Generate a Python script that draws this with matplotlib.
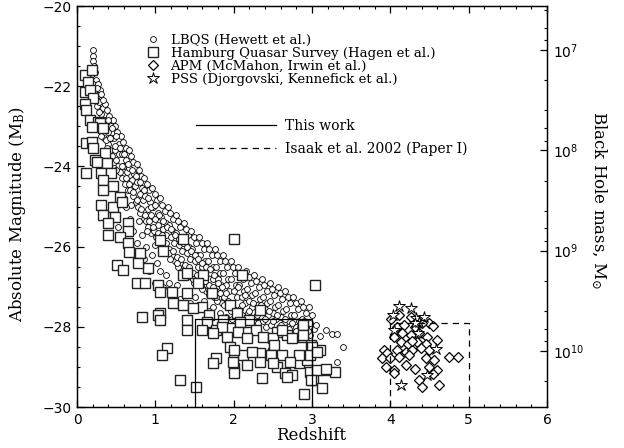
import numpy as np
import matplotlib.pyplot as plt
from matplotlib.lines import Line2D
from matplotlib.ticker import MultipleLocator, LogLocator, NullFormatter, LogFormatterMathtext

plt.rcParams['mathtext.fontset'] = 'dejavuserif'

# LBQS (Hewett et al.): redshift, M_B
lbqs = np.array([
    (0.20, -21.10), (0.20, -21.25), (0.21, -21.38), (0.22, -21.5), (0.19, -21.7), (0.24, -21.85),
    (0.21, -21.95), (0.23, -22.1), (0.25, -22.25), (0.22, -22.35), (0.26, -22.5),
    (0.27, -21.95), (0.29, -22.1), (0.31, -22.2), (0.28, -22.4), (0.33, -22.55), (0.30, -22.7),
    (0.34, -22.85), (0.29, -22.95), (0.32, -23.1), (0.35, -23.3), (0.31, -23.25),
    (0.36, -22.45), (0.38, -22.6), (0.41, -22.75), (0.37, -22.9), (0.43, -23.0), (0.39, -23.15),
    (0.44, -23.3), (0.40, -23.45), (0.42, -23.6), (0.45, -23.75), (0.38, -23.55),
    (0.46, -22.85), (0.48, -23.0), (0.51, -23.15), (0.47, -23.3), (0.53, -23.45), (0.49, -23.6),
    (0.54, -23.7), (0.50, -23.85), (0.52, -24.0), (0.55, -24.15), (0.47, -24.05),
    (0.56, -23.25), (0.59, -23.4), (0.62, -23.55), (0.57, -23.7), (0.63, -23.85), (0.60, -24.0),
    (0.64, -24.15), (0.58, -24.3), (0.61, -24.45), (0.65, -24.6), (0.60, -24.8), (0.52, -25.5),
    (0.66, -23.6), (0.69, -23.75), (0.72, -23.9), (0.67, -24.05), (0.73, -24.2), (0.70, -24.35),
    (0.74, -24.5), (0.68, -24.6), (0.71, -24.75), (0.75, -24.9), (0.69, -24.95),
    (0.76, -23.95), (0.79, -24.1), (0.82, -24.25), (0.77, -24.4), (0.83, -24.55), (0.80, -24.7),
    (0.84, -24.85), (0.78, -25.0), (0.81, -25.15), (0.85, -25.3), (0.79, -25.35),
    (0.86, -24.3), (0.89, -24.45), (0.92, -24.6), (0.87, -24.75), (0.93, -24.9), (0.90, -25.05),
    (0.94, -25.2), (0.88, -25.35), (0.91, -25.5), (0.95, -25.65), (0.89, -25.6),
    (0.96, -24.55), (0.99, -24.7), (1.02, -24.85), (0.97, -25.0), (1.03, -25.15), (1.00, -25.3),
    (1.04, -25.45), (0.98, -25.6), (1.01, -25.75), (1.05, -25.9), (0.99, -25.95),
    (1.06, -24.8), (1.09, -24.95), (1.12, -25.1), (1.07, -25.25), (1.13, -25.4), (1.10, -25.55),
    (1.14, -25.7), (1.08, -25.85), (1.11, -26.0), (1.15, -26.15), (1.09, -26.1),
    (1.16, -25.0), (1.19, -25.15), (1.22, -25.3), (1.17, -25.45), (1.23, -25.6), (1.20, -25.75),
    (1.24, -25.9), (1.18, -26.05), (1.21, -26.2), (1.25, -26.35), (1.19, -26.3),
    (1.26, -25.2), (1.29, -25.35), (1.32, -25.5), (1.27, -25.65), (1.33, -25.8), (1.30, -25.95),
    (1.34, -26.1), (1.28, -26.25), (1.31, -26.4), (1.35, -26.55), (1.29, -26.5),
    (1.36, -25.4), (1.39, -25.55), (1.42, -25.7), (1.37, -25.85), (1.43, -26.0), (1.40, -26.15),
    (1.44, -26.3), (1.38, -26.45), (1.41, -26.6), (1.45, -26.75), (1.39, -26.7),
    (1.46, -25.6), (1.49, -25.75), (1.52, -25.9), (1.47, -26.05), (1.53, -26.2), (1.50, -26.35),
    (1.54, -26.5), (1.48, -26.65), (1.51, -26.8), (1.55, -26.95), (1.49, -26.9),
    (1.56, -25.75), (1.59, -25.9), (1.62, -26.05), (1.57, -26.2), (1.63, -26.35), (1.60, -26.5),
    (1.64, -26.65), (1.58, -26.8), (1.61, -26.95), (1.65, -27.1), (1.59, -27.05),
    (1.66, -25.9), (1.69, -26.05), (1.72, -26.2), (1.67, -26.35), (1.73, -26.5), (1.70, -26.65),
    (1.74, -26.8), (1.68, -26.95), (1.71, -27.1), (1.75, -27.25), (1.69, -27.2),
    (1.76, -26.05), (1.79, -26.2), (1.82, -26.35), (1.77, -26.5), (1.83, -26.65), (1.80, -26.8),
    (1.84, -26.95), (1.78, -27.1), (1.81, -27.25), (1.85, -27.4), (1.79, -27.35),
    (1.86, -26.2), (1.89, -26.35), (1.92, -26.5), (1.87, -26.65), (1.93, -26.8), (1.90, -26.95),
    (1.94, -27.1), (1.88, -27.25), (1.91, -27.4), (1.95, -27.5),
    (1.96, -26.35), (1.99, -26.5), (2.02, -26.65), (1.97, -26.8), (2.03, -26.95), (2.00, -27.1),
    (2.04, -27.25), (1.98, -27.4), (2.01, -27.55),
    (2.06, -26.5), (2.09, -26.65), (2.12, -26.8), (2.07, -26.95), (2.13, -27.1), (2.10, -27.25),
    (2.14, -27.4), (2.08, -27.55), (2.11, -27.7),
    (2.16, -26.6), (2.19, -26.75), (2.22, -26.9), (2.17, -27.05), (2.23, -27.2), (2.20, -27.35),
    (2.24, -27.5), (2.18, -27.65), (2.21, -27.8),
    (2.26, -26.7), (2.29, -26.85), (2.32, -27.0), (2.27, -27.15), (2.33, -27.3), (2.30, -27.45),
    (2.34, -27.6), (2.28, -27.75), (2.31, -27.9),
    (2.36, -26.8), (2.39, -26.95), (2.42, -27.1), (2.37, -27.25), (2.43, -27.4), (2.40, -27.55),
    (2.44, -27.7), (2.38, -27.85), (2.41, -28.0),
    (2.46, -26.9), (2.49, -27.05), (2.52, -27.2), (2.47, -27.35), (2.53, -27.5), (2.50, -27.65),
    (2.54, -27.8), (2.48, -27.95),
    (2.56, -27.0), (2.59, -27.15), (2.62, -27.3), (2.57, -27.45), (2.63, -27.6), (2.60, -27.75),
    (2.64, -27.9), (2.58, -28.05),
    (2.66, -27.1), (2.69, -27.25), (2.72, -27.4), (2.67, -27.55), (2.73, -27.7), (2.70, -27.85),
    (2.74, -28.0), (2.68, -28.1),
    (2.76, -27.25), (2.79, -27.4), (2.82, -27.55), (2.77, -27.7), (2.83, -27.85), (2.80, -28.0),
    (2.84, -28.15),
    (2.86, -27.35), (2.89, -27.5), (2.92, -27.65), (2.87, -27.8), (2.93, -27.95), (2.90, -28.1),
    (2.94, -28.2),
    (2.96, -27.5), (3.00, -27.7), (2.98, -27.9), (3.03, -28.05), (2.97, -28.2),
    (3.10, -28.23), (3.18, -28.08), (3.25, -28.18), (3.32, -28.18), (3.40, -28.5), (3.32, -28.88),
    (0.62, -25.0), (0.68, -25.3), (0.72, -25.6), (0.76, -25.9), (0.80, -26.1), (0.83, -25.7),
    (0.86, -26.3), (0.88, -26.0), (0.92, -26.6), (0.96, -26.2), (1.00, -26.9), (1.02, -26.4),
    (1.06, -26.6), (1.10, -27.0), (1.14, -26.7), (1.18, -26.9), (1.22, -27.2), (1.28, -26.95),
    (1.32, -27.3), (1.38, -27.1), (1.44, -27.4), (1.50, -27.25), (1.56, -27.5), (1.62, -27.35),
    (1.68, -27.6), (1.74, -27.5), (1.82, -27.65), (1.90, -27.75), (1.98, -27.8),
    (0.23, -21.65), (0.26, -22.05), (0.28, -22.65), (0.33, -22.35), (0.35, -22.95), (0.37, -23.35),
    (0.40, -22.85), (0.42, -23.3), (0.45, -23.05), (0.48, -23.5), (0.50, -23.25), (0.50, -24.1),
    (0.55, -23.55), (0.57, -24.0), (0.60, -23.7), (0.62, -24.3), (0.65, -23.95), (0.67, -24.45),
    (0.70, -24.1), (0.72, -24.65), (0.75, -24.25), (0.77, -24.85), (0.80, -24.4), (0.82, -25.05),
    (0.85, -24.6), (0.87, -25.2), (0.90, -24.8), (0.92, -25.35), (0.95, -25.0), (0.97, -25.5),
    (1.00, -24.95), (1.03, -25.65), (1.05, -25.2), (1.08, -25.7), (1.10, -25.35), (1.13, -25.9),
    (1.15, -25.5), (1.18, -26.15), (1.20, -25.55), (1.23, -26.1), (1.25, -25.7), (1.28, -26.4),
    (1.30, -25.8), (1.33, -26.3), (1.35, -25.9), (1.38, -26.6), (1.40, -26.0), (1.43, -26.5),
    (1.45, -26.1), (1.48, -26.8), (1.50, -26.2), (1.53, -26.7), (1.55, -26.3), (1.58, -26.95),
    (1.60, -26.4), (1.63, -26.85), (1.65, -26.5), (1.68, -27.1), (1.70, -26.55), (1.73, -27.0),
    (1.75, -26.7), (1.78, -27.25), (1.80, -26.9), (1.83, -27.15), (1.85, -27.0), (1.88, -27.45),
    (1.90, -27.15), (1.93, -27.35), (1.96, -27.6), (2.05, -27.0), (2.10, -27.45), (2.15, -27.2),
    (2.20, -27.6), (2.25, -27.4), (2.30, -27.7), (2.35, -27.45), (2.40, -27.8), (2.45, -27.6),
    (2.50, -27.85), (2.55, -27.7), (2.60, -27.95), (2.65, -27.8), (2.70, -28.05), (2.75, -27.9),
    (2.80, -28.1), (2.85, -28.0), (2.90, -27.85), (2.95, -28.1), (3.05, -27.95),
])

# Hamburg Quasar Survey (Hagen et al.)
hamburg = np.array([
    (0.10, -21.72), (0.19, -21.6), (0.14, -21.9), (0.10, -22.15), (0.17, -22.1), (0.20, -22.3),
    (0.10, -22.45), (0.12, -22.6), (0.17, -22.85), (0.27, -22.9), (0.29, -22.92), (0.19, -23.02),
    (0.33, -23.05), (0.12, -23.42), (0.19, -23.4), (0.20, -23.55), (0.36, -23.67), (0.23, -23.84),
    (0.25, -23.9), (0.38, -23.92), (0.12, -24.17), (0.31, -24.17), (0.44, -24.17), (0.33, -24.34),
    (0.46, -24.5), (0.33, -24.6), (0.55, -24.76), (0.31, -24.97), (0.46, -25.0), (0.57, -24.9),
    (0.33, -25.2), (0.48, -25.26), (0.39, -25.4), (0.65, -25.4), (0.65, -25.6), (0.39, -25.7),
    (0.55, -25.75), (0.65, -25.9), (1.06, -25.84), (1.35, -25.8), (2.01, -25.82), (0.67, -26.14),
    (0.80, -26.17), (1.10, -26.1), (0.51, -26.46), (0.59, -26.58), (0.90, -26.53), (1.35, -26.7),
    (2.10, -26.7), (0.78, -26.4), (1.41, -26.66), (1.61, -26.7), (0.76, -26.9), (0.87, -26.9),
    (1.03, -26.96), (1.54, -26.9), (1.06, -27.13), (1.21, -27.13), (1.40, -27.16), (1.72, -27.16),
    (1.22, -27.4), (1.35, -27.45), (1.59, -27.5), (1.95, -27.45), (1.06, -27.66), (1.48, -27.53),
    (1.69, -27.7), (2.04, -27.66), (0.83, -27.75), (1.04, -27.7), (1.06, -27.83), (1.40, -27.83),
    (1.66, -27.88), (1.86, -27.83), (2.20, -27.83), (1.41, -28.08), (1.59, -28.08), (1.78, -28.08),
    (1.95, -28.03), (2.17, -28.13), (2.29, -28.08), (3.04, -26.96), (1.85, -28.0), (2.08, -27.88),
    (2.33, -27.58), (1.73, -28.15), (1.91, -28.25), (2.05, -28.13), (2.55, -28.13), (2.68, -28.2),
    (2.88, -27.95), (2.88, -28.25), (2.99, -28.45), (3.10, -28.58), (1.15, -28.53), (1.08, -28.7),
    (1.78, -28.78), (1.73, -28.9), (1.95, -28.5), (2.01, -28.65), (2.12, -28.7), (2.01, -29.03),
    (2.17, -28.95), (2.33, -28.65), (2.36, -29.28), (2.50, -28.65), (2.55, -29.0), (2.65, -29.15),
    (2.75, -29.2), (2.84, -28.9), (2.93, -28.83), (3.01, -29.33), (3.16, -29.08), (3.29, -29.13),
    (3.13, -29.53), (2.90, -29.68), (1.31, -29.33), (1.52, -29.5), (2.17, -28.28), (2.37, -28.25),
    (2.50, -28.28), (2.52, -28.45), (2.62, -28.08), (2.74, -28.28), (2.88, -28.2), (3.00, -28.5),
    (2.01, -28.58), (2.24, -28.63), (2.48, -28.7), (2.62, -28.7), (2.84, -28.7), (2.97, -28.7),
    (3.07, -28.63), (1.99, -28.88), (2.33, -28.88), (2.50, -28.9), (2.72, -28.88), (2.97, -29.13),
    (3.07, -29.08), (3.18, -29.05), (2.01, -29.15), (2.68, -29.25), (2.99, -29.33),
])

# APM (McMahon, Irwin et al.)
apm = np.array([
    (4.01, -27.8), (4.11, -27.7), (4.27, -27.75), (4.50, -27.9), (4.54, -27.98), (4.09, -28.0),
    (4.18, -27.95), (4.31, -28.0), (4.41, -27.9), (4.05, -28.25), (4.15, -28.15), (4.27, -28.2),
    (4.37, -28.15), (4.47, -28.25), (4.14, -28.38), (4.22, -28.42), (4.34, -28.38), (4.46, -28.42),
    (4.59, -28.33), (3.92, -28.58), (3.96, -28.66), (4.09, -28.58), (4.20, -28.63), (4.28, -28.58),
    (4.39, -28.53), (4.50, -28.58), (3.89, -28.78), (3.99, -28.78), (4.11, -28.75), (4.24, -28.7),
    (4.46, -28.78), (4.56, -28.83), (4.75, -28.75), (4.87, -28.75), (3.95, -29.0), (4.05, -29.08),
    (4.20, -28.95), (4.31, -29.05), (4.50, -29.0), (4.60, -29.08), (4.05, -29.15), (4.54, -29.18),
    (4.37, -29.33), (4.41, -29.5), (4.62, -29.45), (4.28, -28.35),
])

# PSS (Djorgovski, Kennefick et al.)
pss = np.array([
    (4.11, -27.48), (4.27, -27.53), (4.03, -27.7), (4.33, -27.78), (4.43, -27.75), (4.37, -27.88),
    (4.31, -27.9), (4.05, -28.08), (4.35, -28.15), (4.58, -28.55), (4.47, -29.2), (4.14, -29.45),
])

# selection regions: (redshift, M_B) corners
this_work_z = [1.5, 1.5, 3.0, 3.0]
this_work_m = [-30.0, -27.8, -27.8, -30.0]
isaak_z = [4.0, 4.0, 5.0, 5.0]
isaak_m = [-30.0, -27.9, -27.9, -30.0]

# M_B -> black hole mass (10^7 Msun at M_B = -21.1, 2.5 mag per dex)
MB_REF, LOGM_REF, MAG_PER_DEX = -21.1, 7.0, 2.5


def bh_mass(mb):
    return 10 ** (LOGM_REF + (MB_REF - mb) / MAG_PER_DEX)


serif = {'family': 'DejaVu Serif'}

fig = plt.figure(figsize=(6.24, 4.48), dpi=100)
ax = fig.add_axes([0.1234, 0.0915, 0.7532, 0.8951])

ax.plot(lbqs[:, 0], lbqs[:, 1], 'o', ms=4.2, mfc='white', mec='black', mew=0.6, ls='none')
ax.plot(hamburg[:, 0], hamburg[:, 1], 's', ms=7.2, mfc='white', mec='#222222', mew=1.0, ls='none')
ax.plot(apm[:, 0], apm[:, 1], 'D', ms=5.6, mfc='white', mec='black', mew=0.9, ls='none')
ax.plot(pss[:, 0], pss[:, 1], '*', ms=9, mfc='white', mec='black', mew=0.7, ls='none')

ax.plot(this_work_z, this_work_m, color='black', lw=0.9)
ax.plot(isaak_z, isaak_m, color='black', lw=0.9, ls=(0, (5, 4)))

ax.set_xlim(0, 6)
ax.set_ylim(-30, -20)
ax.xaxis.set_major_locator(MultipleLocator(1))
ax.xaxis.set_minor_locator(MultipleLocator(0.2))
ax.yaxis.set_major_locator(MultipleLocator(2))
ax.yaxis.set_minor_locator(MultipleLocator(0.5))
ax.tick_params(which='both', direction='in', top=True, right=False, labelsize=10, pad=4)
ax.tick_params(which='major', length=5, width=0.9)
ax.tick_params(which='minor', length=2.5, width=0.8)
for s in ax.spines.values():
    s.set_linewidth(1.0)

ax.set_xlabel('Redshift', fontsize=12, **serif)
ax.xaxis.set_label_coords(0.498, -0.05)
ax.set_ylabel('Absolute Magnitude (M$_{\\mathrm{B}}$)', fontsize=12, **serif)
ax.yaxis.set_label_coords(-0.105, 0.48)

ax2 = ax.twinx()
ax2.set_yscale('log')
ax2.set_ylim(bh_mass(-30), bh_mass(-20))
ax2.yaxis.set_major_locator(LogLocator(base=10))
ax2.yaxis.set_major_formatter(LogFormatterMathtext())
ax2.yaxis.set_minor_locator(LogLocator(base=10, subs=[2, 4, 6, 8]))
ax2.yaxis.set_minor_formatter(NullFormatter())
ax2.tick_params(which='both', direction='in', labelsize=10, pad=4)
ax2.tick_params(which='major', length=5, width=0.9)
ax2.tick_params(which='minor', length=2.5, width=0.8)
ax2.set_ylabel('Black Hole mass, M$_{\\odot}$', fontsize=12, rotation=270, va='center', **serif)
ax2.yaxis.set_label_coords(1.11, 0.515)

survey_handles = [
    Line2D([], [], ls='none', marker='o', ms=4.2, mfc='white', mec='black', mew=0.6),
    Line2D([], [], ls='none', marker='s', ms=7.2, mfc='white', mec='#222222', mew=1.0),
    Line2D([], [], ls='none', marker='D', ms=5.6, mfc='white', mec='black', mew=0.9),
    Line2D([], [], ls='none', marker='*', ms=9, mfc='white', mec='black', mew=0.7),
]
survey_labels = ['LBQS (Hewett et al.)', 'Hamburg Quasar Survey (Hagen et al.)',
                 'APM (McMahon, Irwin et al.)', 'PSS (Djorgovski, Kennefick et al.)']
leg1 = ax2.legend(survey_handles, survey_labels, loc='upper left', bbox_to_anchor=(0.147, 0.93),
                  frameon=False, prop={'family': 'DejaVu Serif', 'size': 9.5}, handlelength=1.0,
                  handletextpad=0.85, labelspacing=0.0, borderpad=0, borderaxespad=0)
ax2.add_artist(leg1)

line_handles = [Line2D([], [], color='black', lw=0.9),
                Line2D([], [], color='black', lw=0.9, ls=(0, (5, 4)))]
line_labels = ['This work', 'Isaak et al. 2002 (Paper I)']
ax2.legend(line_handles, line_labels, loc='upper left', bbox_to_anchor=(0.253, 0.718),
           frameon=False, prop={'family': 'DejaVu Serif', 'size': 10}, handlelength=5.75,
           handletextpad=0.7, labelspacing=0.6, borderpad=0, borderaxespad=0)

fig.savefig('out.png', dpi=100)
